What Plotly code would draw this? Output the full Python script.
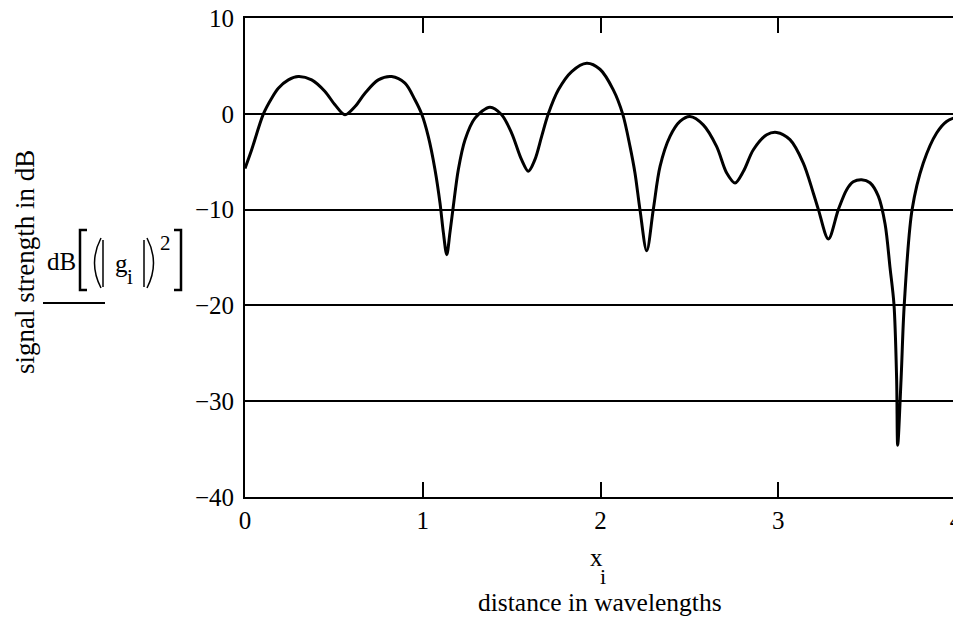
import plotly.graph_objects as go

# distance in wavelengths (x_i) and signal strength in dB
distance = [0.0, 0.0375, 0.103, 0.150, 0.1875, 0.244, 0.300, 0.375, 0.450, 0.506,
            0.5625, 0.619, 0.675, 0.750, 0.825, 0.900, 0.956, 0.994, 1.031, 1.069,
            1.097, 1.116, 1.135, 1.153, 1.172, 1.200, 1.238, 1.294, 1.378, 1.444,
            1.500, 1.556, 1.594, 1.631, 1.669, 1.706, 1.763, 1.838, 1.922, 1.997,
            2.072, 2.125, 2.166, 2.194, 2.222, 2.260, 2.297, 2.335, 2.391, 2.447,
            2.503, 2.578, 2.653, 2.710, 2.757, 2.804, 2.860, 2.935, 2.991, 3.066,
            3.141, 3.197, 3.226, 3.282, 3.338, 3.385, 3.422, 3.469, 3.516, 3.563,
            3.601, 3.629, 3.651, 3.666, 3.672, 3.691, 3.709, 3.753, 3.816, 3.891,
            3.947, 4.0]
signal_db = [-5.7, -3.75, -0.03, 1.63, 2.67, 3.54, 3.89, 3.54, 2.33, 0.94,
             -0.1, 0.76, 2.15, 3.54, 3.89, 3.2, 1.46, -0.03, -2.36, -5.83,
             -9.3, -12.4, -14.7, -12.4, -9.65, -5.83, -2.7, -0.45, 0.69, -0.1,
             -2.01, -4.79, -6.0, -4.79, -2.36, -0.03, 2.5, 4.41, 5.28, 4.65,
             2.5, -0.03, -3.4, -6.18, -10.0, -14.3, -10.0, -5.49, -2.36, -0.8,
             -0.28, -1.15, -3.4, -6.18, -7.22, -6.0, -3.75, -2.19, -1.94, -2.7,
             -5.14, -8.26, -10.0, -13.06, -10.0, -7.92, -7.1, -6.88, -7.2, -8.6,
             -11.5, -16.08, -19.9, -27.7, -34.6, -27.7, -19.9, -10.0, -5.14, -2.0,
             -0.8, -0.35]

x_ticks = [0, 1, 2, 3, 4]
y_ticks = [10, 0, -10, -20, -30, -40]

FONT = "Liberation Serif"
OFF = 8                       # page body margin of the browser
W, H = 953, 609
L, R, T, B = 237, 5, 10, 120
PW, PH = W - L - R, H - T - B


def px(X):
    """reference-picture pixel x -> paper coordinate"""
    return (X - OFF - L) / PW


def py(Y):
    """reference-picture pixel y -> paper coordinate"""
    return (H - B - (Y - OFF)) / PH


fig = go.Figure()
fig.add_trace(go.Scatter(
    x=distance, y=signal_db, mode="lines",
    line=dict(color="black", width=3, shape="spline", smoothing=0.9),
    showlegend=False, hoverinfo="skip",
))

fig.update_layout(
    width=W, height=H,
    margin=dict(l=L, r=R, t=T, b=B, autoexpand=False),
    paper_bgcolor="white", plot_bgcolor="white",
    font=dict(family=FONT, color="black", size=24),
    xaxis=dict(
        range=[0, 4], tickvals=x_ticks, ticktext=[str(v) for v in x_ticks],
        ticks="inside", ticklen=15, tickwidth=2, tickcolor="black",
        showline=True, linecolor="black", linewidth=2, mirror="ticks",
        showgrid=False, zeroline=False, automargin=False,
        ticklabeloverflow="allow",
        tickfont=dict(family=FONT, size=25),
    ),
    yaxis=dict(
        range=[-40, 10], tickvals=y_ticks,
        ticktext=[str(v).replace("-", "\u2212") for v in y_ticks],
        ticks="", showline=True, linecolor="black", linewidth=2, mirror=True,
        showgrid=True, gridcolor="black", gridwidth=1.5, zeroline=False,
        automargin=False, ticklabeloverflow="allow",
        tickfont=dict(family=FONT, size=25), ticklabelstandoff=4,
    ),
)


def label(text, X, Y, size, angle=0):
    fig.add_annotation(text=text, xref="paper", yref="paper", x=px(X), y=py(Y),
                       xanchor="center", yanchor="middle", textangle=angle,
                       showarrow=False, font=dict(family=FONT, size=size))


def path(d_points, width=2):
    fig.add_shape(type="path", xref="paper", yref="paper", path=d_points,
                  line=dict(color="black", width=width))


def P(X, Y):
    return f"{px(X):.5f},{py(Y):.5f}"


# axis titles
label("signal strength in dB", 25, 262, 27, angle=-90)
label("x", 596, 557, 25)
label("i", 603, 576, 22)
label("distance in wavelengths", 600, 602, 25.5)

# MathCAD-style expression dB[(|g_i|)^2]
label("dB", 62, 262, 25)
label("g", 121, 263, 25)
label("i", 130, 277, 21)
label("2", 165, 243, 21)
path(f"M {P(87,230)} L {P(80,230)} L {P(80,290)} L {P(87,290)}", 2.5)
path(f"M {P(174,230)} L {P(181,230)} L {P(181,290)} L {P(174,290)}", 2.5)
path(f"M {P(101,238)} Q {P(88,263)} {P(101,288)}", 1.5)
path(f"M {P(103,240)} L {P(103,287)}", 1.5)
path(f"M {P(144,240)} L {P(144,287)}", 1.5)
path(f"M {P(147,238)} Q {P(160,263)} {P(147,288)}", 1.5)
# underline below the expression
path(f"M {P(43,303)} L {P(105,303)}", 2)

fig.write_html("out.html")
